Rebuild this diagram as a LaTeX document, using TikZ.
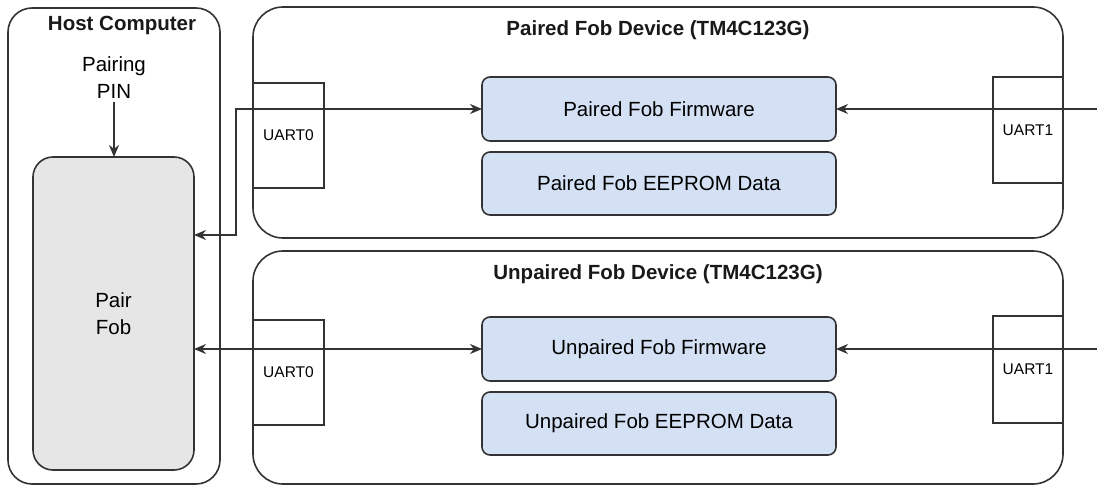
\documentclass[tikz,border=0pt]{standalone}
\usepackage{fontspec}
\setmainfont{Liberation Sans}
\usetikzlibrary{arrows.meta}
\definecolor{linegray}{HTML}{333333}
\definecolor{fobblue}{HTML}{D4E1F5}
\definecolor{fobgray}{HTML}{E6E6E6}
\newcommand{\lbl}{\fontsize{20.5}{27}\selectfont}
\newcommand{\uartlbl}{\fontsize{15.5}{19}\selectfont}
\begin{document}
\begin{tikzpicture}[x=1pt,y=-1pt,>={Stealth[length=12pt,width=10pt]},
  frame/.style={draw=linegray,line width=1.6pt,inner sep=0pt,outer sep=0pt},
  container/.style={frame,rounded corners=30pt},
  fwbox/.style={frame,fill=fobblue,rounded corners=8pt,minimum width=354pt,font=\lbl},
  uartbox/.style={frame,minimum width=71pt,font=\uartlbl},
  title/.style={font=\lbl\bfseries,text=black!90}]
  \useasboundingbox (0,0) rectangle (1097,487);
  % host computer side
  \node[container,rounded corners=24pt,minimum width=212pt,minimum height=476pt] (host) at (114,246) {};
  \node[title] (hosttitle) at (122,25) {Host Computer};
  \node[frame,fill=fobgray,rounded corners=20pt,minimum width=161pt,minimum height=313pt,
    align=center,font=\lbl] (pairfob) at (113.5,313.5) {Pair\\Fob};
  \node[align=center,font=\lbl] (pin) at (114,78) {Pairing\\PIN};
  \draw[->,draw=linegray,line width=1.6pt] (pin.south) -- (pin.south |- pairfob.north);
  % paired fob device
  \node[container,minimum width=810pt,minimum height=231pt] (paired) at (658,122.5) {};
  \node[title] (pairedtitle) at (658,30) {Paired Fob Device (TM4C123G)};
  \node[fwbox,minimum height=64pt] (pfw) at (659,109) {Paired Fob Firmware};
  \node[fwbox,minimum height=63pt] (pee) at (659,183.5) {Paired Fob EEPROM Data};
  \node[uartbox,minimum height=105pt] (puart0) at (288.5,135.5) {UART0};
  \node[uartbox,minimum width=70pt,minimum height=106pt] (puart1) at (1028,130) {UART1};
  % unpaired fob device
  \node[container,minimum width=810pt,minimum height=233pt] (unpaired) at (658,367.5) {};
  \node[title] (unpairedtitle) at (658,274.5) {Unpaired Fob Device (TM4C123G)};
  \node[fwbox,minimum height=64pt] (ufw) at (659,349) {Unpaired Fob Firmware};
  \node[fwbox,minimum height=63pt] (uee) at (659,423.5) {Unpaired Fob EEPROM Data};
  \node[uartbox,minimum height=105pt] (uuart0) at (288.5,372.5) {UART0};
  \node[uartbox,minimum width=70pt,minimum height=107pt] (uuart1) at (1028,369.5) {UART1};
  % serial links
  \coordinate (bend) at (236,235);
  \coordinate (pin1) at (1097,109);
  \coordinate (pin2) at (1097,349);
  \begin{scope}[draw=linegray,line width=1.6pt]
    \draw[<->] (pfw.west) -| (bend) -- (bend -| pairfob.east);
    \draw[<->] (pairfob.east |- ufw.west) -- (ufw.west);
    \draw[->] (pin1) -- (pfw.east);
    \draw[->] (pin2) -- (ufw.east);
  \end{scope}
\end{tikzpicture}
\end{document}
